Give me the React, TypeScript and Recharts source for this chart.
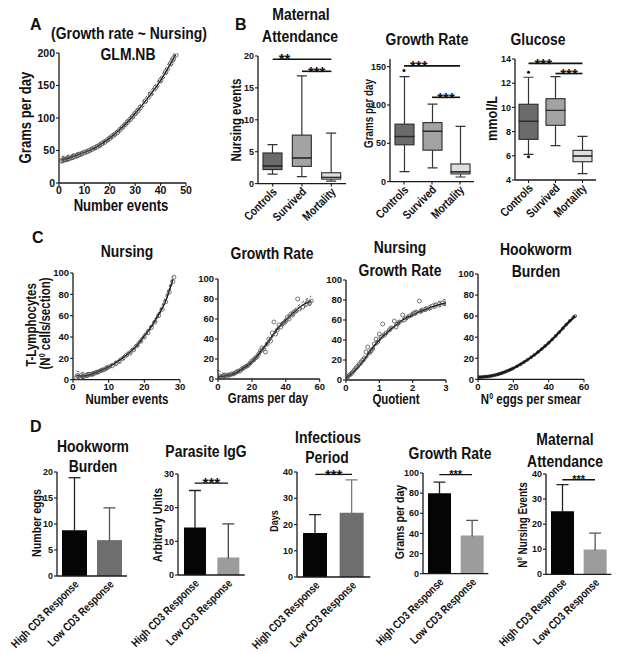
import React from 'react';
import { ComposedChart, Line, Scatter, XAxis, YAxis, Bar, Cell, ReferenceLine } from 'recharts';

const SANS = "'Liberation Sans', Arial, Helvetica, sans-serif";
const INK = '#111111';
const AXC = '#1a1a1a';
const NARROW_X = 0.82; // horizontal condensing to imitate a narrow bold face

// ---------------- Panel A : Growth rate ~ Nursing (GLM.NB) ----------------
const aFit = [[1, 35], [5, 40], [10, 47], [15, 56], [20, 69], [25, 86], [30, 107], [35, 131], [40, 158], [45, 191], [46, 198]];
const aUpper = [[1, 40.5], [5, 44], [10, 50], [15, 59], [20, 72], [25, 89], [30, 111], [35, 136], [40, 163], [45, 197], [46, 203]];
const aLower = [[1, 31], [5, 36], [10, 44], [15, 53], [20, 66], [25, 83], [30, 103], [35, 126], [40, 153], [45, 185], [46, 192]];
const aPoints = [[1, 34], [1.5, 35], [2, 36], [2.5, 36], [3, 37], [3.5, 37], [4, 38], [5, 39], [5.5, 40], [6, 41], [7, 42], [7.5, 43], [8, 44], [9, 45], [10, 47], [11, 48], [12, 50], [13, 52], [14, 54], [15, 56], [16, 58], [17, 61], [18, 63], [19, 66], [20, 69], [21, 72], [22, 75], [23, 78], [24, 82], [25, 86], [26, 90], [27, 94], [28, 98], [29, 102], [30, 107], [31, 111], [32, 116], [34, 126], [36, 137], [38, 147], [40, 158], [42, 171], [44, 184], [45, 191], [46, 197]];
const aXTicks = [0, 10, 20, 30, 40, 50];
const aYTicks = [0, 50, 100, 150, 200];

// ---------------- Panel B : box plots ----------------
const bCats = ['Controls', 'Survived', 'Mortality'];
const bColors = ['#6b6b6b', '#a3a3a3', '#dedede'];
// Maternal attendance (nursing events)
const b1Min = [1.5, 1.1, 0.4];
const b1Q1 = [2.2, 2.7, 0.7];
const b1Med = [2.8, 4.05, 1.0];
const b1Q3 = [4.8, 7.6, 1.7];
const b1Max = [6.1, 16.9, 7.9];
const b1Ticks = [0, 5, 10, 15, 20];
// Growth rate (grams per day)
const b2Min = [13, 18, 6];
const b2Q1 = [48, 41, 10];
const b2Med = [59, 66, 13];
const b2Q3 = [75, 77, 23];
const b2Max = [137, 101, 72];
const b2OutHi = [145, null, null];
const b2Ticks = [0, 50, 100, 150];
// Glucose (mmol/L)
const b3Min = [6.12, 6.84, 4.52];
const b3Q1 = [7.36, 8.52, 5.51];
const b3Med = [8.87, 9.76, 6.0];
const b3Q3 = [10.26, 10.72, 6.45];
const b3Max = [12.49, 12.54, 7.6];
const b3OutHi = [12.9, null, null];
const b3OutLo = [5.93, null, null];
const b3Ticks = [4, 6, 8, 10, 12, 14];

// ---------------- Panel C : T-lymphocyte fits ----------------
const c1Fit = [[1, 4], [2, 3.5], [3, 3.5], [5, 5], [7, 7.5], [10, 12], [12, 16], [14, 20.5], [16, 26], [18, 32.5], [20, 41], [22, 50], [24, 61], [26, 74], [28, 94]];
const c1Upper = [[1, 8], [3, 6.5], [5, 7], [10, 13.5], [15, 25], [20, 43], [25, 70], [28, 97]];
const c1Lower = [[1, 0.5], [3, 1.5], [5, 3.5], [10, 10.5], [15, 21], [20, 39], [25, 66], [28, 91]];
const c1Points = [[1, 2], [1.2, 4], [1.5, 3], [2, 2], [2.3, 4], [2.6, 3], [3, 3], [3.5, 4], [4, 4], [4.5, 5], [5, 5], [5.5, 5], [6, 6], [6.5, 7], [7, 7], [7.5, 8], [8, 9], [8.5, 9], [9, 10], [9.5, 11], [10, 12], [11, 13], [12, 15], [13, 17], [14, 20], [15, 23], [16, 25], [17, 28], [18, 32], [19, 36], [20, 40], [21, 44], [22, 49], [23, 54], [24, 60], [25, 66], [26, 73], [27, 82], [28, 92], [28.3, 96]];
const c1XTicks = [0, 10, 20, 30];

const c2Fit = [[0, 2.5], [5, 3.3], [10, 5.7], [15, 10.7], [20, 17], [25, 27], [30, 38], [35, 50], [40, 59], [45, 67], [50, 74], [55, 78]];
const c2Upper = [[0, 9], [5, 5], [10, 7], [15, 12], [20, 18.5], [25, 28.5], [30, 39.5], [35, 51.5], [40, 61], [45, 69.5], [50, 77], [55, 83]];
const c2Lower = [[0, 0], [5, 1.8], [10, 4.5], [15, 9.5], [20, 15.5], [25, 25.5], [30, 36.5], [35, 48.5], [40, 57], [45, 64.5], [50, 71], [55, 74]];
const c2Points = [[1, 3], [2, 2], [3, 3], [4, 4], [5, 3], [6, 4], [7, 4], [8, 5], [9, 5], [10, 6], [11, 7], [12, 8], [13, 8], [14, 10], [15, 11], [16, 12], [17, 13], [18, 14], [19, 16], [20, 18], [21, 19], [22, 21], [23, 22], [24, 25], [25, 28], [26, 31], [27, 30], [28, 27], [29, 35], [30, 40], [31, 38], [32, 46], [33, 57], [34, 45], [35, 49], [36, 54], [37, 52], [38, 55], [39, 56], [40, 58], [41, 62], [42, 60], [43, 65], [44, 64], [45, 67], [46, 68], [47, 80], [48, 70], [50, 72], [52, 75], [53, 77], [54, 76], [55, 78]];
const c2XTicks = [0, 20, 40, 60];

const c3Fit = [[0, 2], [0.25, 9], [0.5, 18], [0.75, 30], [1, 40], [1.25, 48], [1.5, 55], [1.75, 61], [2, 65], [2.25, 69], [2.5, 72], [2.75, 75], [3, 77]];
const c3Upper = [[0, 4], [0.5, 20], [1, 41.5], [1.5, 56.5], [2, 67], [2.5, 74.5], [3, 81]];
const c3Lower = [[0, 0.5], [0.5, 16.5], [1, 38.5], [1.5, 53.5], [2, 63.5], [2.5, 70], [3, 75]];
const c3Points = [[0.02, 2], [0.05, 3], [0.1, 5], [0.15, 6], [0.2, 8], [0.25, 10], [0.3, 12], [0.35, 14], [0.4, 16], [0.45, 18], [0.5, 20], [0.55, 22], [0.6, 28], [0.65, 33], [0.7, 27], [0.75, 29], [0.8, 31], [0.85, 36], [0.9, 41], [0.95, 38], [1.0, 46], [1.05, 43], [1.1, 56], [1.15, 45], [1.2, 47], [1.3, 50], [1.35, 52], [1.45, 59], [1.5, 53], [1.55, 56], [1.6, 58], [1.7, 65], [1.75, 60], [1.8, 62], [1.9, 64], [2.0, 66], [2.05, 67], [2.1, 68], [2.2, 79], [2.25, 69], [2.3, 70], [2.4, 71], [2.5, 72], [2.6, 74], [2.7, 75], [2.8, 76], [2.9, 77], [3.0, 77]];
const c3XTicks = [0, 1, 2, 3];

const c4Fit = [[0, 2], [5, 2.6], [10, 4.1], [15, 6.8], [20, 10.5], [25, 15.2], [30, 20.8], [35, 27.3], [40, 34.6], [45, 43], [50, 52], [55, 60]];
const c4Points = [[0, 2], [1, 2], [2, 2], [3, 2.3], [4, 2.5], [5, 2.6], [6, 2.8], [7, 3.1], [8, 3.4], [9, 3.8], [10, 4.1], [11, 4.6], [12, 5.1], [13, 5.6], [14, 6.2], [15, 6.8], [16, 7.5], [17, 8.2], [18, 8.9], [19, 9.7], [20, 10.5], [22, 12.3], [24, 14.2], [26, 16.3], [28, 18.5], [30, 20.8], [32, 23.3], [34, 25.9], [36, 28.7], [38, 31.6], [40, 34.6], [42, 37.8], [44, 41.2], [46, 44.7], [48, 48.3], [50, 52], [52, 55.6], [54, 59], [55, 60]];
const c4XTicks = [0, 20, 40, 60];
const cYTicks = [0, 20, 40, 60, 80, 100];

// ---------------- Panel D : bar charts (mean + upper SD) ----------------
const dCats = ['High CD3 Response', 'Low CD3 Response'];
const d1Mean = [8.8, 6.9];
const d1Err = [10.1, 6.2];
const d2Mean = [14.1, 5.2];
const d2Err = [11.0, 10.0];
const d3Mean = [16.8, 24.5];
const d3Err = [7.0, 12.5];
const d4Mean = [80, 38];
const d4Err = [11, 15];
const d5Mean = [25.1, 9.9];
const d5Err = [10.7, 6.5];

// ---------------- helpers ----------------
const pts = (a: number[][]) => a.map(([x, y]) => ({ x, y }));
const axisLine = { stroke: AXC, strokeWidth: 1.3 };
const tickLine = { stroke: AXC, strokeWidth: 1.1 };
const tickFont = (fs: number) => ({ fontSize: fs, fontWeight: 700, fill: INK, fontFamily: SANS });

type R = { x0: number; y0: number; x1: number; y1: number };

function Frame({ r, l = 36, t = 16, rt = 14, b = 40, children }: any) {
  const width = r.x1 - r.x0 + l + rt;
  const height = r.y1 - r.y0 + t + b;
  return (
    <div style={{ position: 'absolute', left: r.x0 - l, top: r.y0 - t, width, height }}>
      {children({ width, height, margin: { top: t, right: rt, left: 0, bottom: 0 }, yW: l, xH: b })}
    </div>
  );
}

const makeRotTick = (fs: number, dx: number, dy: number) => (p: any) => {
  const ax = p.x + dx;
  const ay = p.y + dy;
  return (
    <text x={0} y={0} transform={`translate(${ax} ${ay}) rotate(-45) scale(${NARROW_X} 1)`} textAnchor="end" fontSize={fs} fontWeight={700} fontFamily={SANS} fill={INK}>
      {p.payload.value}
    </text>
  );
};

const starLabel = (txt: string, align: 'left' | 'center', fs: number, gap = 1) => (props: any) => {
  const vb = props.viewBox || { x: 0, y: 0, width: 0 };
  const x = align === 'left' ? vb.x + 6 : vb.x + (vb.width || 0) / 2;
  return (
    <text x={x} y={vb.y + fs * 0.42 - gap} textAnchor={align === 'left' ? 'start' : 'middle'} fontSize={fs} fontWeight={700} fontFamily={SANS} fill={INK}>
      {txt}
    </text>
  );
};

function CurvePanel({ r, xDomain, xTicks, yDomain, yTicks, fit, upper, lower, points, pointR = 2.2, pointStroke = '#555', fitWidth = 1.4, tfs = 9.5 }: any) {
  const circle = (p: any) => <circle cx={p.cx} cy={p.cy} r={pointR} fill="none" stroke={pointStroke} strokeWidth={0.8} />;
  return (
    <Frame r={r}>
      {({ width, height, margin, yW, xH }: any) => (
        <ComposedChart width={width} height={height} margin={margin}>
          <XAxis type="number" dataKey="x" domain={xDomain} ticks={xTicks} interval={0} allowDataOverflow height={xH} axisLine={axisLine} tickLine={tickLine} tickSize={3} tickMargin={1} tick={tickFont(tfs)} />
          <YAxis type="number" domain={yDomain} ticks={yTicks} interval={0} allowDataOverflow width={yW} axisLine={axisLine} tickLine={tickLine} tickSize={3} tickMargin={1} tick={tickFont(tfs)} />
          <Scatter data={pts(points)} dataKey="y" shape={circle} isAnimationActive={false} />
          {lower.length > 0 && <Line data={pts(lower)} dataKey="y" type="monotone" stroke="#333" strokeWidth={0.8} strokeDasharray="3 2" dot={false} isAnimationActive={false} />}
          {upper.length > 0 && <Line data={pts(upper)} dataKey="y" type="monotone" stroke="#333" strokeWidth={0.8} strokeDasharray="3 2" dot={false} isAnimationActive={false} />}
          <Line data={pts(fit)} dataKey="y" type="monotone" stroke="#111" strokeWidth={fitWidth} dot={false} isAnimationActive={false} />
        </ComposedChart>
      )}
    </Frame>
  );
}

function BoxPanel({ r, mins, q1, med, q3, maxs, outHi, outLo, yDomain, yTicks, sigs }: any) {
  const data = bCats.map((name, i) => ({
    name,
    base: mins[i],
    lw: q1[i] - mins[i],
    b1: med[i] - q1[i],
    b2: q3[i] - med[i],
    uw: maxs[i] - q3[i],
    outHi: outHi ? outHi[i] : null,
    outLo: outLo ? outLo[i] : null,
  }));
  const colorOf = (p: any) => {
    const i = bCats.indexOf(p?.payload?.name ?? p?.name);
    return i >= 0 ? bColors[i] : p.fill;
  };
  const lowW = (p: any) => {
    const cx = p.x + p.width / 2;
    const yb = p.y + p.height;
    return (
      <g>
        <line x1={cx} x2={cx} y1={p.y} y2={yb} stroke="#333" strokeWidth={1.2} />
        <line x1={cx - 5} x2={cx + 5} y1={yb} y2={yb} stroke="#333" strokeWidth={1.2} />
      </g>
    );
  };
  const upW = (p: any) => {
    const cx = p.x + p.width / 2;
    return (
      <g>
        <line x1={cx} x2={cx} y1={p.y} y2={p.y + p.height} stroke="#333" strokeWidth={1.2} />
        <line x1={cx - 5} x2={cx + 5} y1={p.y} y2={p.y} stroke="#333" strokeWidth={1.2} />
      </g>
    );
  };
  const boxLo = (p: any) => (
    <g>
      <rect x={p.x} y={p.y} width={p.width} height={Math.max(p.height, 0)} fill={colorOf(p)} stroke="#2a2a2a" strokeWidth={1.1} />
      <line x1={p.x} x2={p.x + p.width} y1={p.y} y2={p.y} stroke="#1a1a1a" strokeWidth={1.6} />
    </g>
  );
  const boxHi = (p: any) => (
    <rect x={p.x} y={p.y} width={p.width} height={Math.max(p.height, 0)} fill={colorOf(p)} stroke="#2a2a2a" strokeWidth={1.1} />
  );
  return (
    <Frame r={r} l={60} b={60}>
      {({ width, height, margin, yW, xH }: any) => (
        <ComposedChart width={width} height={height} margin={margin} data={data}>
          <XAxis dataKey="name" type="category" interval={0} height={xH} axisLine={axisLine} tickLine={tickLine} tickSize={3} tickMargin={2} tick={makeRotTick(12, 5, 4)} />
          <YAxis type="number" domain={yDomain} ticks={yTicks} interval={0} allowDataOverflow width={yW} axisLine={axisLine} tickLine={tickLine} tickSize={3} tickMargin={1} tick={tickFont(9)} />
          <Bar dataKey="base" stackId="s" barSize={19} fill="none" shape={() => <g />} isAnimationActive={false} />
          <Bar dataKey="lw" stackId="s" barSize={19} fill="#333" shape={lowW} isAnimationActive={false} />
          <Bar dataKey="b1" stackId="s" barSize={19} fill="#999" shape={boxLo} isAnimationActive={false}>
            {bCats.map((c, i) => <Cell key={c} fill={bColors[i]} />)}
          </Bar>
          <Bar dataKey="b2" stackId="s" barSize={19} fill="#999" shape={boxHi} isAnimationActive={false}>
            {bCats.map((c, i) => <Cell key={c} fill={bColors[i]} />)}
          </Bar>
          <Bar dataKey="uw" stackId="s" barSize={19} fill="#333" shape={upW} isAnimationActive={false} />
          <Line dataKey="outHi" stroke="none" dot={{ r: 1.5, fill: '#111', stroke: 'none' }} isAnimationActive={false} />
          <Line dataKey="outLo" stroke="none" dot={{ r: 1.5, fill: '#111', stroke: 'none' }} isAnimationActive={false} />
          {sigs.map((s: any, i: number) => (
            <ReferenceLine
              key={i}
              segment={[{ x: s.from, y: s.y }, { x: 'Mortality', y: s.y }]}
              stroke="#111"
              strokeWidth={1.6}
              ifOverflow="visible"
              label={starLabel(s.txt, s.align, 15)}
            />
          ))}
        </ComposedChart>
      )}
    </Frame>
  );
}

function BarPanel({ r, mean, err, colors, errColors, yDomain, yTicks, sig, starFs, barSize }: any) {
  const data = dCats.map((name, i) => ({ name, v: mean[i], e: err[i] }));
  const whisker = (p: any) => {
    const i = dCats.indexOf(p?.payload?.name);
    const c = errColors[i >= 0 ? i : 0];
    const cx = p.x + p.width / 2;
    return (
      <g>
        <line x1={cx} x2={cx} y1={p.y} y2={p.y + p.height + 1} stroke={c} strokeWidth={1.3} />
        <line x1={cx - 6} x2={cx + 6} y1={p.y} y2={p.y} stroke={c} strokeWidth={1.3} />
      </g>
    );
  };
  return (
    <Frame r={r} l={70} b={78}>
      {({ width, height, margin, yW, xH }: any) => (
        <ComposedChart width={width} height={height} margin={margin} data={data}>
          <XAxis dataKey="name" type="category" interval={0} height={xH} axisLine={axisLine} tickLine={false} tickSize={3} tickMargin={2} tick={makeRotTick(11.5, 5, 4)} />
          <YAxis type="number" domain={yDomain} ticks={yTicks} interval={0} allowDataOverflow width={yW} axisLine={axisLine} tickLine={tickLine} tickSize={3} tickMargin={1} tick={tickFont(9)} />
          <Bar dataKey="v" stackId="m" barSize={barSize} isAnimationActive={false}>
            {dCats.map((c, i) => <Cell key={c} fill={colors[i]} />)}
          </Bar>
          <Bar dataKey="e" stackId="m" barSize={barSize} fill="#333" shape={whisker} isAnimationActive={false} />
          {sig != null && (
            <ReferenceLine
              segment={[{ x: dCats[0], y: sig }, { x: dCats[1], y: sig }]}
              stroke="#111"
              strokeWidth={1.3}
              ifOverflow="visible"
              label={starLabel('***', 'center', starFs)}
            />
          )}
        </ComposedChart>
      )}
    </Frame>
  );
}

// ---------------- layout (plot rectangles, page px) ----------------
const rA: R = { x0: 59, y0: 53.3, x1: 186, y1: 183.3 };
const rB1: R = { x0: 258, y0: 55.7, x1: 346, y1: 183.3 };
const rB2: R = { x0: 390, y0: 59.1, x1: 474, y1: 181.7 };
const rB3: R = { x0: 515, y0: 59, x1: 596, y1: 180 };
const rC1: R = { x0: 73, y0: 273.3, x1: 180, y1: 380 };
const rC2: R = { x0: 218.3, y0: 279, x1: 320, y1: 379 };
const rC3: R = { x0: 345.7, y0: 280, x1: 445.7, y1: 380 };
const rC4: R = { x0: 478, y0: 274, x1: 584, y1: 379.3 };
const rD1: R = { x0: 57, y0: 471.7, x1: 127, y1: 575.7 };
const rD2: R = { x0: 178.3, y0: 474, x1: 245, y1: 575 };
const rD3: R = { x0: 296.7, y0: 471.7, x1: 370, y1: 576.7 };
const rD4: R = { x0: 422.7, y0: 473.3, x1: 488, y1: 574 };
const rD5: R = { x0: 545.7, y0: 474, x1: 611, y1: 574.3 };

const Txt = ({ x, y, fs, rot = 0, anchor = 'middle', sx = NARROW_X, children }: any) => (
  <text x={0} y={0} fontSize={fs} fontFamily={SANS} fontWeight={700} fill={INK} textAnchor={anchor} transform={`translate(${x} ${y}) rotate(${rot}) scale(${sx} 1)`}>
    {children}
  </text>
);

const Sup = ({ fs }: any) => (
  <>
    <tspan>N</tspan>
    <tspan dy={-fs * 0.38} fontSize={fs * 0.62}>0</tspan>
    <tspan dy={fs * 0.38}> </tspan>
  </>
);

export default function App() {
  return (
    <div style={{ position: 'absolute', left: 0, top: 0, width: 617, height: 654, background: '#ffffff', overflow: 'hidden', fontFamily: SANS }}>
      <CurvePanel r={rA} xDomain={[0, 50]} xTicks={aXTicks} yDomain={[0, 200]} yTicks={aYTicks} fit={aFit} upper={aUpper} lower={aLower} points={aPoints} pointR={2.3} tfs={10.5} />

      <BoxPanel r={rB1} mins={b1Min} q1={b1Q1} med={b1Med} q3={b1Q3} maxs={b1Max} yDomain={[0, 20]} yTicks={b1Ticks}
        sigs={[{ from: 'Controls', y: 19.5, txt: '**', align: 'left' }, { from: 'Survived', y: 17.6, txt: '***', align: 'center' }]} />
      <BoxPanel r={rB2} mins={b2Min} q1={b2Q1} med={b2Med} q3={b2Q3} maxs={b2Max} outHi={b2OutHi} yDomain={[0, 160]} yTicks={b2Ticks}
        sigs={[{ from: 'Controls', y: 151, txt: '***', align: 'left' }, { from: 'Survived', y: 110, txt: '***', align: 'center' }]} />
      <BoxPanel r={rB3} mins={b3Min} q1={b3Q1} med={b3Med} q3={b3Q3} maxs={b3Max} outHi={b3OutHi} outLo={b3OutLo} yDomain={[4, 14]} yTicks={b3Ticks}
        sigs={[{ from: 'Controls', y: 13.64, txt: '***', align: 'left' }, { from: 'Survived', y: 12.8, txt: '***', align: 'center' }]} />

      <CurvePanel r={rC1} xDomain={[0, 30]} xTicks={c1XTicks} yDomain={[0, 100]} yTicks={cYTicks} fit={c1Fit} upper={c1Upper} lower={c1Lower} points={c1Points} pointR={2} />
      <CurvePanel r={rC2} xDomain={[0, 60]} xTicks={c2XTicks} yDomain={[0, 100]} yTicks={cYTicks} fit={c2Fit} upper={c2Upper} lower={c2Lower} points={c2Points} pointR={2} />
      <CurvePanel r={rC3} xDomain={[0, 3]} xTicks={c3XTicks} yDomain={[0, 100]} yTicks={cYTicks} fit={c3Fit} upper={c3Upper} lower={c3Lower} points={c3Points} pointR={2} />
      <CurvePanel r={rC4} xDomain={[0, 60]} xTicks={c4XTicks} yDomain={[0, 100]} yTicks={cYTicks} fit={c4Fit} upper={[]} lower={[]} points={c4Points} pointR={1.4} pointStroke="#222" fitWidth={2.2} />

      <BarPanel r={rD1} mean={d1Mean} err={d1Err} colors={['#050505', '#6e6e6e']} errColors={['#222', '#555']} yDomain={[0, 20]} yTicks={[0, 5, 10, 15, 20]} sig={null} barSize={25} />
      <BarPanel r={rD2} mean={d2Mean} err={d2Err} colors={['#050505', '#9c9c9c']} errColors={['#222', '#444']} yDomain={[0, 30]} yTicks={[0, 10, 20, 30]} sig={27.3} starFs={15} barSize={22} />
      <BarPanel r={rD3} mean={d3Mean} err={d3Err} colors={['#050505', '#6e6e6e']} errColors={['#222', '#7a7a7a']} yDomain={[0, 40]} yTicks={[0, 10, 20, 30, 40]} sig={39.1} starFs={15} barSize={24} />
      <BarPanel r={rD4} mean={d4Mean} err={d4Err} colors={['#050505', '#9c9c9c']} errColors={['#222', '#555']} yDomain={[0, 100]} yTicks={[0, 20, 40, 60, 80, 100]} sig={98.3} starFs={11} barSize={23} />
      <BarPanel r={rD5} mean={d5Mean} err={d5Err} colors={['#050505', '#9c9c9c']} errColors={['#222', '#555']} yDomain={[0, 40]} yTicks={[0, 10, 20, 30, 40]} sig={37.7} starFs={11} barSize={23} />

      <svg width={617} height={654} style={{ position: 'absolute', left: 0, top: 0, pointerEvents: 'none' }}>
        {/* panel letters */}
        <Txt x={30} y={30} fs={16} sx={1} anchor="start">A</Txt>
        <Txt x={235} y={30} fs={16} sx={1} anchor="start">B</Txt>
        <Txt x={32} y={243} fs={16} sx={1} anchor="start">C</Txt>
        <Txt x={30} y={432} fs={16} sx={1} anchor="start">D</Txt>

        {/* A */}
        <Txt x={129} y={38.5} fs={17}>(Growth rate ~ Nursing)</Txt>
        <Txt x={128} y={60} fs={17}>GLM.NB</Txt>
        <Txt x={31} y={117.5} fs={16} rot={-90}>Grams per day</Txt>
        <Txt x={121} y={211} fs={16}>Number events</Txt>

        {/* B */}
        <Txt x={301} y={20} fs={17}>Maternal</Txt>
        <Txt x={300} y={41.5} fs={17}>Attendance</Txt>
        <Txt x={241} y={120} fs={14} rot={-90}>Nursing events</Txt>
        <Txt x={427} y={45} fs={17}>Growth Rate</Txt>
        <Txt x={373} y={113.5} fs={12} rot={-90}>Grams per day</Txt>
        <Txt x={538} y={45} fs={17}>Glucose</Txt>
        <Txt x={497} y={118.5} fs={15.5} rot={-90}>mmol/L</Txt>

        {/* C */}
        <Txt x={127} y={257} fs={17}>Nursing</Txt>
        <Txt x={272} y={259} fs={17}>Growth Rate</Txt>
        <Txt x={400} y={253} fs={17}>Nursing</Txt>
        <Txt x={400} y={276} fs={17}>Growth Rate</Txt>
        <Txt x={536} y={255} fs={17}>Hookworm</Txt>
        <Txt x={536} y={277} fs={17}>Burden</Txt>
        <Txt x={36} y={325} fs={14} rot={-90}>T-Lymphocytes</Txt>
        <Txt x={50} y={323.5} fs={14} rot={-90}>(<Sup fs={14} />cells/section)</Txt>
        <Txt x={127} y={404} fs={14}>Number events</Txt>
        <Txt x={268} y={403} fs={14}>Grams per day</Txt>
        <Txt x={396} y={404} fs={14}>Quotient</Txt>
        <Txt x={531} y={404} fs={14}><Sup fs={14} />eggs per smear</Txt>

        {/* D */}
        <Txt x={93} y={452} fs={17}>Hookworm</Txt>
        <Txt x={93} y={472} fs={17}>Burden</Txt>
        <Txt x={206} y={457} fs={17}>Parasite IgG</Txt>
        <Txt x={328} y={443} fs={17}>Infectious</Txt>
        <Txt x={327} y={463} fs={17}>Period</Txt>
        <Txt x={450} y={459} fs={17}>Growth Rate</Txt>
        <Txt x={565} y={445} fs={17}>Maternal</Txt>
        <Txt x={565} y={467} fs={17}>Attendance</Txt>
        <Txt x={41} y={523} fs={13} rot={-90}>Number eggs</Txt>
        <Txt x={162} y={525} fs={13} rot={-90}>Arbitrary Units</Txt>
        <Txt x={278} y={521} fs={11} rot={-90}>Days</Txt>
        <Txt x={404} y={522} fs={13} rot={-90}>Grams per day</Txt>
        <Txt x={527} y={525} fs={12} rot={-90}><Sup fs={12} />Nursing Events</Txt>
      </svg>
    </div>
  );
}
